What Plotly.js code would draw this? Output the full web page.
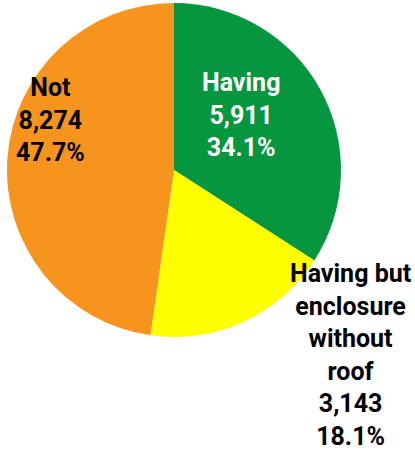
<!DOCTYPE html>
<html>
<head>
<meta charset="utf-8">
<script src="https://cdn.plot.ly/plotly-3.0.1.min.js"></script>
<style>html,body{margin:0;padding:0;background:#fff;}#chart{width:415px;height:450px;}</style>
</head>
<body>
<div id="chart"></div>
<script>
const categories = ["Having", "Having but enclosure without roof", "Not"];
const categoryDisplay = ["Having", "Having but<br>enclosure<br>without<br>roof", "Not"];
const values = [5911, 3143, 8274];
const colors = ["#05963f", "#ffff00", "#f7941d"];
const textColors = ["#ffffff", "#000000", "#000000"];
// label block centres (px in 415x450 page)
const labelPos = [[241, 115], [350, 355], [50, 120]];

const W = 415, H = 450;
const total = values.reduce((a, b) => a + b, 0);
const fmt = v => v.toLocaleString("en-US");

const trace = {
  type: "pie",
  labels: categories,
  values: values,
  sort: false,
  direction: "clockwise",
  rotation: 0,
  marker: {colors: colors, line: {width: 0}},
  textinfo: "none",
  hoverinfo: "label+value+percent",
  showlegend: false,
  domain: {x: [7 / W, 341 / W], y: [1 - 337 / H, 1 - 3 / H]}
};

const annotations = categories.map((c, i) => ({
  xref: "paper", yref: "paper",
  x: labelPos[i][0] / W, y: 1 - labelPos[i][1] / H,
  xanchor: "center", yanchor: "middle",
  align: "center",
  showarrow: false,
  text: categoryDisplay[i] + "<br>" + fmt(values[i]) + "<br>" + (values[i] / total * 100).toFixed(1) + "%",
  font: {family: "Roboto, Arial, sans-serif", size: 25, color: textColors[i], weight: 700}
}));

const layout = {
  width: W, height: H,
  margin: {l: 0, r: 0, t: 0, b: 0},
  paper_bgcolor: "#ffffff",
  plot_bgcolor: "#ffffff",
  annotations: annotations,
  font: {family: "Roboto, Arial, sans-serif"}
};

Plotly.newPlot("chart", [trace], layout, {displayModeBar: false, staticPlot: true});
</script>
</body>
</html>
